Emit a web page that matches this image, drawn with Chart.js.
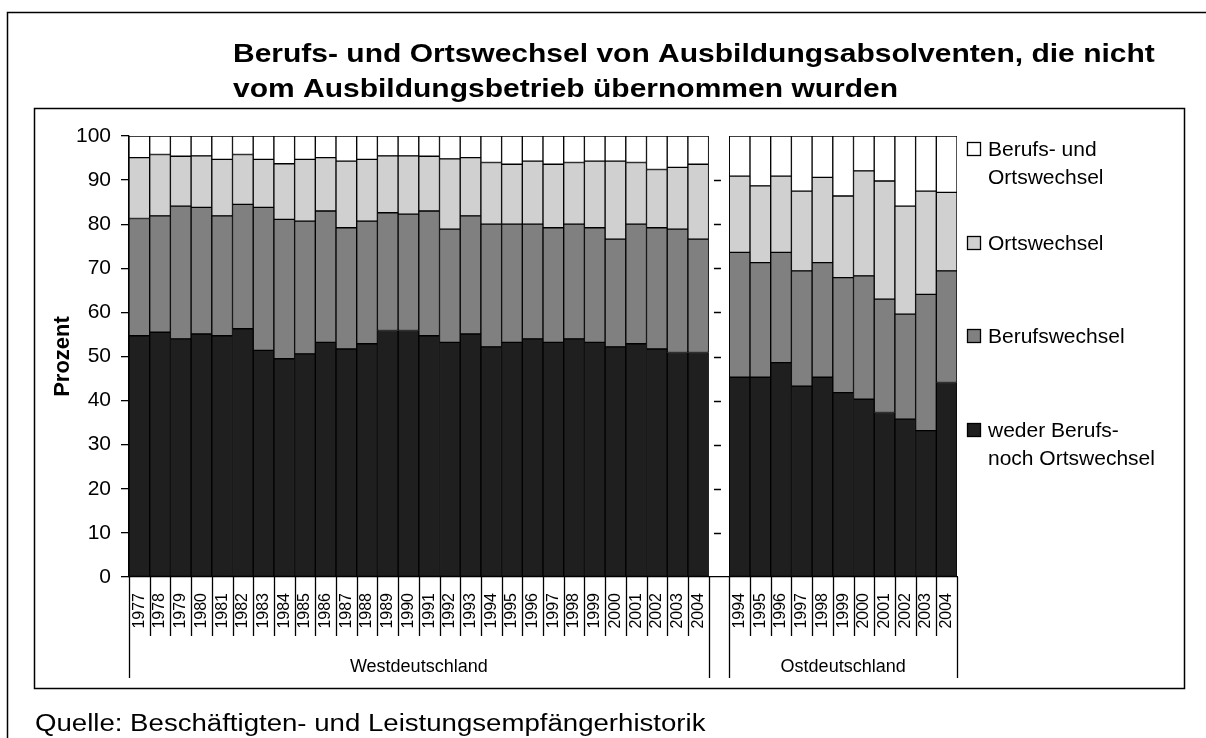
<!DOCTYPE html>
<html>
<head>
<meta charset="utf-8">
<script src="https://cdn.jsdelivr.net/npm/chart.js@4.4.0/dist/chart.umd.min.js"></script>
<style>
  html, body { margin: 0; padding: 0; background: #fff; }
  #wrap { width: 1206px; height: 738px; position: relative; }
</style>
</head>
<body>
<div id="wrap"><canvas id="chart"></canvas></div>
<script>
// Jahre je Gebiet
const westYears = ["1977","1978","1979","1980","1981","1982","1983","1984","1985","1986","1987","1988","1989","1990",
  "1991","1992","1993","1994","1995","1996","1997","1998","1999","2000","2001","2002","2003","2004"];
const eastYears = ["1994","1995","1996","1997","1998","1999","2000","2001","2002","2003","2004"];

// Anteile in Prozent (Westdeutschland)
const wederWest  = [54.7,55.5,54.0,55.1,54.7,56.3,51.4,49.5,50.6,53.2,51.7,52.9,55.9,55.9,
  54.7,53.2,55.1,52.2,53.2,54.0,53.2,54.0,53.2,52.2,52.9,51.7,50.9,50.9];
const berufWest  = [26.6,26.4,30.1,28.7,27.2,28.2,32.4,31.6,30.1,29.8,27.5,27.8,26.7,26.4,
  28.3,25.7,26.8,27.8,26.8,26.0,26.0,26.0,26.0,24.4,27.1,27.5,28.0,25.7];
const ortWest    = [13.8,13.9,11.3,11.7,12.8,11.3,10.9,12.6,14.0,12.1,15.1,14.0,12.9,13.2,
  12.4,15.9,13.2,14.0,13.6,14.3,14.4,14.0,15.1,17.7,14.0,13.2,14.0,17.0];
const beidesWest = [4.9,4.2,4.6,4.5,5.3,4.2,5.3,6.3,5.3,4.9,5.7,5.3,4.5,4.5,
  4.6,5.2,4.9,6.0,6.4,5.7,6.4,6.0,5.7,5.7,6.0,7.6,7.1,6.4];

// Anteile in Prozent (Ostdeutschland)
const wederEast  = [45.3,45.3,48.6,43.3,45.3,41.8,40.3,37.3,35.8,33.2,44.1];
const berufEast  = [28.3,26.0,25.0,26.1,26.0,26.1,28.0,25.7,23.8,30.9,25.3];
const ortEast    = [17.3,17.4,17.3,18.1,19.3,18.5,23.8,26.8,24.5,23.4,17.8];
const beidesEast = [9.1,11.3,9.1,12.5,9.4,13.6,7.9,10.2,15.9,12.5,12.8];

const yTicks = [0,10,20,30,40,50,60,70,80,90,100];

const categories = [...westYears, "", ...eastYears];
const gapIndex = westYears.length;

const FONT = "'Liberation Sans', Arial, sans-serif";

const legendLines = [
  ["Berufs- und", "Ortswechsel"],
  ["Ortswechsel"],
  ["Berufswechsel"],
  ["weder Berufs-", "noch Ortswechsel"]
];

// text drawn a bit wider, like the original
function wideText(ctx, text, x, y, sx) {
  ctx.save();
  ctx.translate(x, y);
  ctx.scale(sx, 1);
  ctx.fillText(text, 0, 0);
  ctx.restore();
}

const decorations = {
  id: "decorations",
  beforeDraw(chart) {
    const ctx = chart.ctx;
    ctx.save();
    ctx.fillStyle = "#fff";
    ctx.fillRect(0, 0, chart.width, chart.height);
    ctx.strokeStyle = "#000";
    ctx.lineWidth = 1.5;
    // outer frame (left + top)
    ctx.beginPath();
    ctx.moveTo(7.5, chart.height);
    ctx.lineTo(7.5, 12.5);
    ctx.lineTo(chart.width, 12.5);
    ctx.stroke();
    // inner frame
    ctx.strokeRect(34.5, 108.5, 1150, 580);
    ctx.restore();
  },
  afterDraw(chart) {
    const ctx = chart.ctx;
    const xs = chart.scales.x;
    const ys = chart.scales.y;
    const area = chart.chartArea;
    const step = xs.getPixelForValue(1) - xs.getPixelForValue(0);
    ctx.save();

    // title
    ctx.fillStyle = "#000";
    ctx.textAlign = "left";
    ctx.textBaseline = "alphabetic";
    ctx.font = "bold 25px " + FONT;
    wideText(ctx, "Berufs- und Ortswechsel von Ausbildungsabsolventen, die nicht", 233, 62, 1.2);
    wideText(ctx, "vom Ausbildungsbetrieb übernommen wurden", 233, 97, 1.2);

    // y axis title
    ctx.save();
    ctx.translate(63, (area.top + area.bottom) / 2);
    ctx.rotate(-Math.PI / 2);
    ctx.textAlign = "center";
    ctx.textBaseline = "middle";
    ctx.font = "bold 22px " + FONT;
    ctx.fillText("Prozent", 0, 0);
    ctx.restore();

    // separators below the category axis
    ctx.strokeStyle = "#000";
    ctx.lineWidth = 1.3;
    const groupEdges = [0, gapIndex, gapIndex + 1, categories.length];
    for (let i = 0; i <= categories.length; i++) {
      const x = Math.round(xs.getPixelForValue(0) - step / 2 + i * step) + 0.5;
      const long = groupEdges.includes(i);
      ctx.beginPath();
      ctx.moveTo(x, area.bottom);
      ctx.lineTo(x, long ? 678 : 636);
      ctx.stroke();
    }

    // group labels
    ctx.font = "18px " + FONT;
    ctx.textAlign = "center";
    ctx.textBaseline = "alphabetic";
    const westMid = (xs.getPixelForValue(0) + xs.getPixelForValue(gapIndex - 1)) / 2;
    const eastMid = (xs.getPixelForValue(gapIndex + 1) + xs.getPixelForValue(categories.length - 1)) / 2;
    ctx.fillText("Westdeutschland", westMid, 672);
    ctx.fillText("Ostdeutschland", eastMid, 672);

    // tick dashes in the gap column
    const gx = xs.getPixelForValue(gapIndex);
    ctx.lineWidth = 1.5;
    yTicks.slice(1, -1).forEach(v => {
      const y = Math.round(ys.getPixelForValue(v)) + 0.5;
      ctx.beginPath();
      ctx.moveTo(gx - 5, y);
      ctx.lineTo(gx + 2, y);
      ctx.stroke();
    });

    // legend
    const order = [3, 2, 1, 0];
    const baselines = [156, 250, 343, 437];
    ctx.font = "21px " + FONT;
    ctx.textAlign = "left";
    order.forEach((dsIndex, k) => {
      const ds = chart.data.datasets[dsIndex];
      const b = baselines[k];
      ctx.fillStyle = ds.backgroundColor;
      ctx.fillRect(967, b - 14, 14, 14);
      ctx.lineWidth = 1.3;
      ctx.strokeStyle = "#000";
      ctx.strokeRect(967.5, b - 13.5, 13, 13);
      ctx.fillStyle = "#000";
      legendLines[k].forEach((line, j) => ctx.fillText(line, 988, b + j * 28));
    });

    // source
    ctx.font = "23px " + FONT;
    ctx.fillStyle = "#000";
    wideText(ctx, "Quelle: Beschäftigten- und Leistungsempfängerhistorik", 35, 731, 1.2);

    ctx.restore();
  }
};

function series(label, west, east, color) {
  return {
    label: label,
    data: [...west, null, ...east],
    backgroundColor: color,
    borderColor: "#000",
    borderWidth: 1,
    borderSkipped: false,
    barPercentage: 1,
    categoryPercentage: 1
  };
}

new Chart(document.getElementById("chart"), {
  type: "bar",
  data: {
    labels: categories,
    datasets: [
      series("weder Berufs- noch Ortswechsel", wederWest, wederEast, "#1f1f1f"),
      series("Berufswechsel", berufWest, berufEast, "#808080"),
      series("Ortswechsel", ortWest, ortEast, "#d0d0d0"),
      series("Berufs- und Ortswechsel", beidesWest, beidesEast, "#ffffff")
    ]
  },
  options: {
    responsive: true,
    maintainAspectRatio: false,
    animation: false,
    layout: { padding: { left: 34, right: 249, top: 136, bottom: 101 } },
    plugins: {
      legend: { display: false },
      title: { display: false },
      tooltip: { enabled: false }
    },
    scales: {
      x: {
        stacked: true,
        grid: { display: false, drawTicks: false },
        border: { display: true, color: "#000", width: 1.3 },
        ticks: {
          autoSkip: false,
          minRotation: 90,
          maxRotation: 90,
          padding: 16,
          color: "#000",
          font: { family: FONT, size: 16 }
        },
        afterFit(scale) { scale.height = 60; }
      },
      y: {
        stacked: true,
        min: 0,
        max: 100,
        afterBuildTicks(scale) { scale.ticks = yTicks.map(v => ({ value: v })); },
        ticks: {
          padding: 10,
          color: "#000",
          font: { family: FONT, size: 21 }
        },
        grid: { drawOnChartArea: false, tickLength: 8, color: "#000", lineWidth: 1.3 },
        border: { color: "#000", width: 1.3 },
        afterFit(scale) { scale.width = 95; }
      }
    }
  },
  plugins: [decorations]
});
</script>
</body>
</html>
